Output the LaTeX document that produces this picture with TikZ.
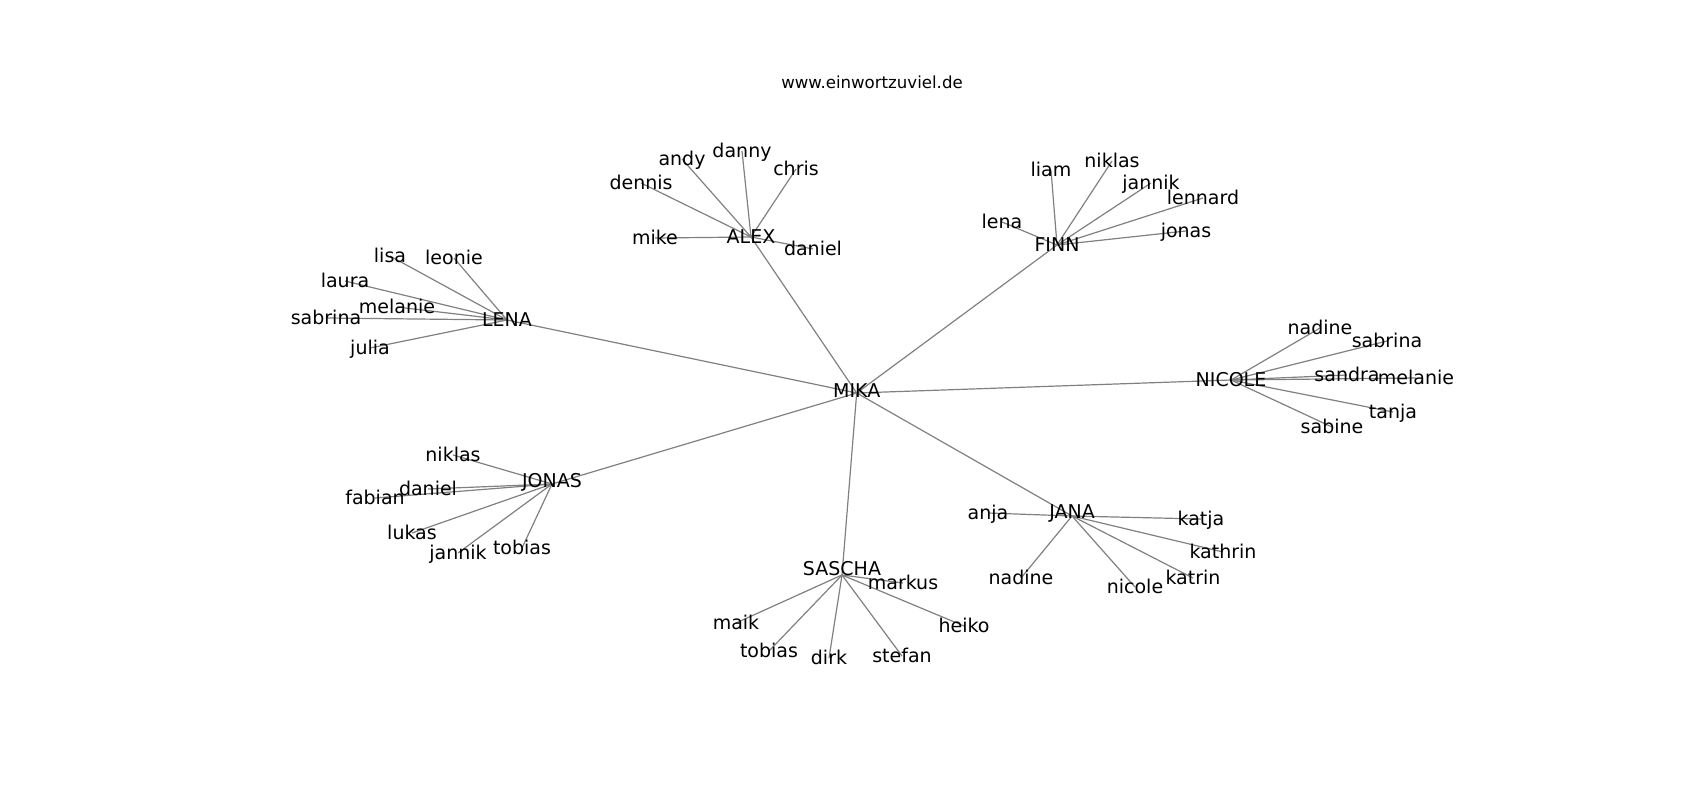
\documentclass[tikz,border=0pt]{standalone}
\usepackage{fontspec}
\setmainfont{DejaVu Sans}
\begin{document}
\begin{tikzpicture}[x=1pt,y=-1pt,
  edge/.style={draw=black!50, line width=1.2pt},
  lbl/.style={inner sep=0pt, yshift=-3.5pt, text height=0.76em, text depth=0.24em, font=\fontsize{19}{22}\selectfont},
  ttl/.style={inner sep=0pt, yshift=-2.5pt, text height=0.76em, text depth=0.24em, font=\fontsize{16.6}{20}\selectfont}]
\useasboundingbox (0,0) rectangle (1700,800);
% node positions
\foreach \n/\x/\y in {
  mika/856.7/393,
  alex/751/237, finn/1057/245, lena/507/320, nicole/1231/380,
  jonas/552/484, sascha/842/575, jana/1072/516,
  alex-mike/655/238, alex-dennis/641/183, alex-andy/682/159, alex-danny/742/151, alex-chris/796/169, alex-daniel/813/249,
  finn-liam/1051/170, finn-niklas/1112/161, finn-jannik/1151/183, finn-lennard/1203/198, finn-jonas/1186/231, finn-lena/1002/222,
  lena-lisa/390/256, lena-leonie/454/258, lena-laura/345/281, lena-melanie/397/307, lena-sabrina/326/318, lena-julia/370/348,
  nicole-nadine/1320/328, nicole-sabrina/1387/341, nicole-sandra/1347/375, nicole-melanie/1416/378, nicole-tanja/1393/412, nicole-sabine/1332/427,
  jonas-niklas/453/455, jonas-daniel/428/489, jonas-fabian/375/498, jonas-lukas/412/533, jonas-jannik/458/553, jonas-tobias/522/548,
  sascha-markus/903/583, sascha-maik/736/623, sascha-tobias/769/651, sascha-dirk/829/658, sascha-stefan/902/656, sascha-heiko/964/626,
  jana-anja/988/513, jana-katja/1201/519, jana-kathrin/1223/552, jana-nadine/1021/578, jana-nicole/1135/587, jana-katrin/1193/578}
  {\coordinate (\n) at (\x,\y);}
% edges
\foreach \a/\b in {
  mika/alex, mika/finn, mika/lena, mika/nicole, mika/jonas, mika/sascha, mika/jana,
  alex/alex-mike, alex/alex-dennis, alex/alex-andy, alex/alex-danny, alex/alex-chris, alex/alex-daniel,
  finn/finn-liam, finn/finn-niklas, finn/finn-jannik, finn/finn-lennard, finn/finn-jonas, finn/finn-lena,
  lena/lena-lisa, lena/lena-leonie, lena/lena-laura, lena/lena-melanie, lena/lena-sabrina, lena/lena-julia,
  nicole/nicole-nadine, nicole/nicole-sabrina, nicole/nicole-sandra, nicole/nicole-melanie, nicole/nicole-tanja, nicole/nicole-sabine,
  jonas/jonas-niklas, jonas/jonas-daniel, jonas/jonas-fabian, jonas/jonas-lukas, jonas/jonas-jannik, jonas/jonas-tobias,
  sascha/sascha-markus, sascha/sascha-maik, sascha/sascha-tobias, sascha/sascha-dirk, sascha/sascha-stefan, sascha/sascha-heiko,
  jana/jana-anja, jana/jana-katja, jana/jana-kathrin, jana/jana-nadine, jana/jana-nicole, jana/jana-katrin}
  {\draw[edge] (\a) -- (\b);}
% hub labels (with small individual vertical offsets)
\foreach \n/\t/\s in {
  mika/MIKA/2, alex/ALEX/0, finn/FINN/0, lena/LENA/0, nicole/NICOLE/0, jonas/JONAS/3, sascha/SASCHA/6, jana/JANA/4}
  {\node[lbl, yshift=\s pt] (t-\n) at (\n) {\t};}
% leaf labels
\foreach \n/\t in {
  alex-mike/mike, alex-dennis/dennis, alex-andy/andy, alex-danny/danny, alex-chris/chris, alex-daniel/daniel,
  finn-liam/liam, finn-niklas/niklas, finn-jannik/jannik, finn-lennard/lennard, finn-jonas/jonas, finn-lena/lena,
  lena-lisa/lisa, lena-leonie/leonie, lena-laura/laura, lena-melanie/melanie, lena-sabrina/sabrina, lena-julia/julia,
  nicole-nadine/nadine, nicole-sabrina/sabrina, nicole-sandra/sandra, nicole-melanie/melanie, nicole-tanja/tanja, nicole-sabine/sabine,
  jonas-niklas/niklas, jonas-daniel/daniel, jonas-fabian/fabian, jonas-lukas/lukas, jonas-jannik/jannik, jonas-tobias/tobias,
  sascha-markus/markus, sascha-maik/maik, sascha-tobias/tobias, sascha-dirk/dirk, sascha-stefan/stefan, sascha-heiko/heiko,
  jana-anja/anja, jana-katja/katja, jana-kathrin/kathrin, jana-nadine/nadine, jana-nicole/nicole, jana-katrin/katrin}
  {\node[lbl] (t-\n) at (\n) {\t};}
\node[ttl] (title) at (872,83) {www.einwortzuviel.de};
\end{tikzpicture}
\end{document}
